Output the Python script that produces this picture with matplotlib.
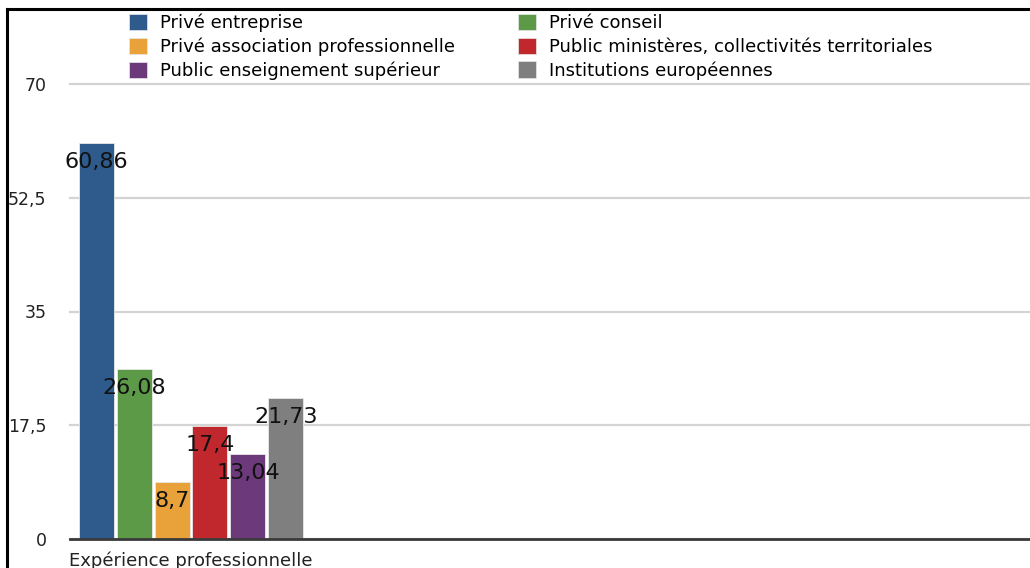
import matplotlib
matplotlib.use("Agg")
import matplotlib.pyplot as plt
from matplotlib.lines import Line2D
from matplotlib.patches import Patch
import numpy as np

plt.rcParams['font.family'] = ['DejaVu Sans']

category = "Expérience professionnelle"
series = ["Privé entreprise", "Privé conseil", "Privé association professionnelle",
          "Public ministères, collectivités territoriales", "Public enseignement supérieur",
          "Institutions européennes"]
values = [60.86, 26.08, 8.7, 17.4, 13.04, 21.73]
labels = ["60,86", "26,08", "8,7", "17,4", "13,04", "21,73"]
colors = ["#2e5a8c", "#5c9a48", "#e9a23a", "#c0282d", "#6c3a7b", "#7f7f7f"]
yticks = [0, 17.5, 35, 52.5, 70]
ytick_labels = ["0", "17,5", "35", "52,5", "70"]

W, H = 1030, 568
fig = plt.figure(figsize=(W / 100, H / 100), dpi=100)
ax = fig.add_axes([70 / W, 1 - 539 / H, 1 - 70 / W, (539 - 84) / H])

step = 0.168
width = 0.155
xs = (np.arange(len(values)) - (len(values) - 1) / 2) * step
bars = ax.bar(xs, values, width=width, color=colors, edgecolor="#e8e8e8",
              linewidth=0.6, zorder=3)
for b, lab in zip(bars, labels):
    ax.annotate(lab, (b.get_x() + b.get_width() / 2, b.get_height()),
                xytext=(0, -19), textcoords="offset pixels",
                ha="center", va="center", fontsize=16, color="#111111", zorder=4)

ax.set_ylim(0, 70)
left = -0.5 - 8 / 226
ax.set_xlim(left, left + 960 / 226)
ax.set_yticks(yticks)
ax.set_yticklabels(ytick_labels)
ax.set_xticks([0])
ax.set_xticklabels([category])
ax.tick_params(axis="y", length=0, pad=17, labelsize=12.5, labelcolor="#222222")
ax.tick_params(axis="x", length=0, pad=9, labelsize=13, labelcolor="#222222")
ax.yaxis.grid(True, color="#d4d4d4", linewidth=1.6, zorder=0)
for gl in ax.get_ygridlines():
    gl.set_clip_on(False)
ax.set_axisbelow(True)
for s in ["top", "right", "left"]:
    ax.spines[s].set_visible(False)
ax.spines["bottom"].set_color("#3a3a3a")
ax.spines["bottom"].set_linewidth(2)
ax.spines["bottom"].set_zorder(5)

# legend is row-major in the picture, matplotlib fills columns first
order = [0, 2, 4, 1, 3, 5]
handles = [Patch(facecolor=colors[i], edgecolor="#e8e8e8", linewidth=0.5) for i in order]
fig.legend(handles, [series[i] for i in order], ncol=2, loc="upper left",
           bbox_to_anchor=(116 / W, 1 - 1 / H), frameon=False, fontsize=13,
           handlelength=1.0, handleheight=1.0, handletextpad=0.75,
           labelspacing=0.3, columnspacing=3.45, borderpad=0.2)

# outer frame (left and top visible)
fig.add_artist(Line2D([7 / W, 7 / W], [0, 1 - 8.5 / H], transform=fig.transFigure,
                      color="black", linewidth=2.2))
fig.add_artist(Line2D([7 / W, 1], [1 - 8.5 / H, 1 - 8.5 / H], transform=fig.transFigure,
                      color="black", linewidth=2.2))

fig.savefig("out.png", dpi=100)
